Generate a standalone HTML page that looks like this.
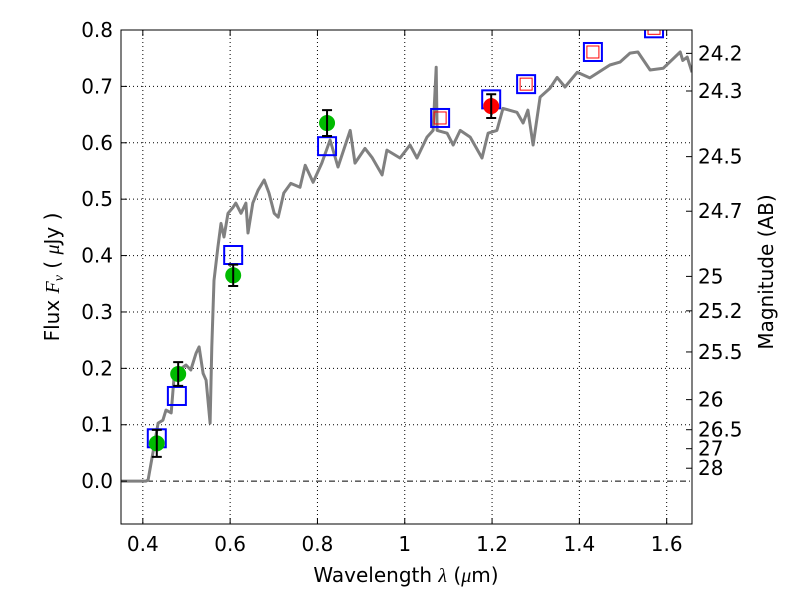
<!DOCTYPE html>
<html><head><meta charset="utf-8"><style>
html,body{margin:0;padding:0;background:#fff;}
svg text{font-family:"DejaVu Sans","Liberation Sans",sans-serif;}
</style></head><body>
<svg id="chart" width="800" height="600" xmlns="http://www.w3.org/2000/svg"></svg>
<script>
const specWave=[0.35,0.407,0.412,0.423,0.435,0.446,0.453,0.465,0.471,0.483,0.499,0.510,0.522,0.529,0.538,0.545,0.554,0.558,0.563,0.572,0.579,0.586,0.595,0.607,0.613,0.625,0.636,0.641,0.652,0.664,0.678,0.689,0.701,0.710,0.723,0.739,0.760,0.772,0.790,0.810,0.829,0.847,0.875,0.886,0.909,0.925,0.948,0.959,0.989,1.012,1.028,1.051,1.065,1.072,1.074,1.097,1.111,1.127,1.150,1.177,1.191,1.211,1.225,1.257,1.271,1.282,1.294,1.310,1.333,1.349,1.367,1.395,1.424,1.470,1.493,1.516,1.534,1.562,1.592,1.631,1.637,1.647,1.658];
const specFlux=[0,0,0.002,0.050,0.103,0.108,0.126,0.121,0.179,0.197,0.206,0.197,0.227,0.238,0.191,0.179,0.103,0.238,0.356,0.415,0.457,0.433,0.475,0.486,0.493,0.475,0.493,0.440,0.493,0.516,0.534,0.511,0.475,0.468,0.511,0.528,0.521,0.560,0.530,0.564,0.605,0.557,0.622,0.564,0.590,0.574,0.543,0.587,0.573,0.596,0.573,0.610,0.622,0.734,0.622,0.617,0.596,0.622,0.610,0.573,0.617,0.622,0.661,0.654,0.635,0.658,0.596,0.681,0.697,0.716,0.699,0.725,0.715,0.738,0.743,0.759,0.761,0.729,0.732,0.761,0.746,0.752,0.725];
const modelWave=[0.432,0.478,0.607,0.822,1.081,1.198,1.278,1.431,1.571];
const modelFlux=[0.076,0.151,0.401,0.594,0.644,0.677,0.704,0.761,0.803];
const innerWave=[1.081,1.278,1.431,1.571];
const innerFlux=[0.644,0.704,0.761,0.803];
const obsWave=[0.432,0.481,0.607,0.822];
const obsFlux=[0.067,0.190,0.365,0.635];
const obsErr=[0.024,0.021,0.019,0.023];
const redWave=[1.198];
const redFlux=[0.665];
const redErr=[0.021];
const xTicks=[0.4,0.6,0.8,1,1.2,1.4,1.6];
const xTickLabels=["0.4","0.6","0.8","1","1.2","1.4","1.6"];
const yTicks=[0,0.1,0.2,0.3,0.4,0.5,0.6,0.7,0.8];
const yTickLabels=["0.0","0.1","0.2","0.3","0.4","0.5","0.6","0.7","0.8"];
const magTicks=[24.2,24.3,24.5,24.7,25,25.2,25.5,26,26.5,27,28];
const magLabels=["24.2","24.3","24.5","24.7","25","25.2","25.5","26","26.5","27","28"];

const L=121,R=692,T=30,B=524,XMIN=0.35,XMAX=1.658,YMIN=-0.076,YMAX=0.8;
const sx=v=>L+(v-XMIN)/(XMAX-XMIN)*(R-L);
const sy=v=>B-(v-YMIN)/(YMAX-YMIN)*(B-T);
const svg=document.getElementById('chart');
const NS='http://www.w3.org/2000/svg';
function mk(tag,attrs,parent){const e=document.createElementNS(NS,tag);for(const k in attrs)e.setAttribute(k,attrs[k]);(parent||svg).appendChild(e);return e;}

const defs=mk('defs',{});
const cp=mk('clipPath',{id:'clip'},defs);mk('rect',{x:L,y:T,width:R-L,height:B-T},cp);

const grid=mk('g',{});


xTicks.forEach(v=>{const g=mk('line',{x1:sx(v),x2:sx(v),y1:T,y2:B,stroke:'#000','stroke-width':1,'stroke-dasharray':'1,3'},grid);});
yTicks.forEach(v=>{const g=mk('line',{x1:L,x2:R,y1:sy(v),y2:sy(v),stroke:'#000','stroke-width':1,'stroke-dasharray':v===0?'6,3,1,3':'1,3'},grid);});

const plot=mk('g',{'clip-path':'url(#clip)'});


let d='';specWave.forEach((w,i)=>{d+=(i?'L':'M')+sx(w).toFixed(1)+','+sy(specFlux[i]).toFixed(1);});
const sp=mk('path',{d:d,fill:'none',stroke:'#808080','stroke-width':3,'stroke-linejoin':'round'},plot);


modelWave.forEach((w,i)=>{const r=mk('rect',{x:sx(w)-9,y:sy(modelFlux[i])-9,width:18,height:18,fill:'none',stroke:'#0000ff','stroke-width':2},plot);});
innerWave.forEach((w,i)=>{const r=mk('rect',{x:sx(w)-6,y:sy(innerFlux[i])-6,width:12,height:12,fill:'none',stroke:'#ff0000','stroke-width':1},plot);});
function pts(ws,fs,es,col,name){ws.forEach((w,i)=>{const c=mk('circle',{cx:sx(w),cy:sy(fs[i]),r:8,fill:col},plot);
const x=sx(w),y1=sy(fs[i]+es[i]),y2=sy(fs[i]-es[i]);const eb=mk('path',{d:`M${x},${y1}L${x},${y2}M${x-5},${y1}L${x+5},${y1}M${x-5},${y2}L${x+5},${y2}`,stroke:'#000','stroke-width':2,fill:'none'},plot);});}
pts(obsWave,obsFlux,obsErr,'#00bb00','observed-point');
pts(redWave,redFlux,redErr,'#ff0000','observed-point-red');

const fr=mk('rect',{x:L,y:T,width:R-L,height:B-T,fill:'none',stroke:'#000','stroke-width':1});


xTicks.forEach((v,i)=>{mk('line',{x1:sx(v),x2:sx(v),y1:B,y2:B-6,stroke:'#000'});mk('line',{x1:sx(v),x2:sx(v),y1:T,y2:T+6,stroke:'#000'});
const t=mk('text',{x:sx(v),y:B+27,'text-anchor':'middle','font-size':20});t.textContent=xTickLabels[i];});
yTicks.forEach((v,i)=>{mk('line',{x1:L,x2:L+6,y1:sy(v),y2:sy(v),stroke:'#000'});
const t=mk('text',{x:L-8,y:sy(v)+7,'text-anchor':'end','font-size':20});t.textContent=yTickLabels[i];});
magTicks.forEach((m,i)=>{const f=Math.pow(10,(23.9-m)/2.5);const y=sy(f);mk('line',{x1:R,x2:R-6,y1:y,y2:y,stroke:'#000'});
const t=mk('text',{x:R+6,y:y+7,'text-anchor':'start','font-size':20});t.textContent=magLabels[i];});

const xl=mk('text',{x:406,y:582,'text-anchor':'middle','font-size':20});
xl.innerHTML='Wavelength  <tspan font-family="Liberation Serif" font-style="italic">λ</tspan> (<tspan font-family="Liberation Serif" font-style="italic">μ</tspan>m)';


const yl=mk('text',{x:0,y:0,'text-anchor':'middle','font-size':20,transform:'translate(59,277) rotate(-90)'});
yl.innerHTML='Flux  <tspan font-family="Liberation Serif" font-style="italic">F<tspan font-size="14" dy="4">ν</tspan></tspan><tspan dy="-4">  ( </tspan><tspan font-family="Liberation Serif" font-style="italic">μ</tspan>Jy )';


const rl=mk('text',{x:0,y:0,'text-anchor':'middle','font-size':20,transform:'translate(773,272) rotate(-90)'});
rl.textContent='Magnitude (AB)';


</script>
</body></html>
